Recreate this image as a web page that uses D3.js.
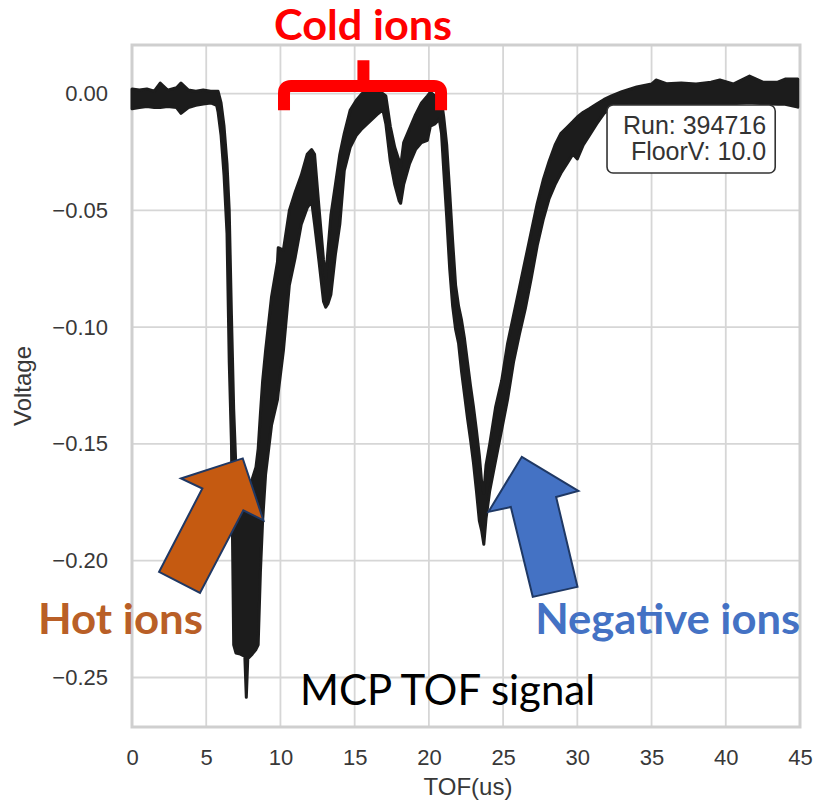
<!DOCTYPE html>
<html>
<head>
<meta charset="utf-8">
<script src="https://cdn.jsdelivr.net/npm/d3@7"></script>
<style>
  body { margin: 0; background: #fff; }
</style>
</head>
<body>
<div id="my_dataviz"></div>
<script>
// time of flight (us) and the upper / lower edge of the noisy MCP trace (V)
const tof = [0.0, 0.5, 1.0, 1.5, 1.9, 2.4, 3.0, 3.3, 3.8, 4.3, 4.8, 5.3, 5.7, 5.8, 6.0, 6.2, 6.4, 6.55, 6.7, 6.85,
  7.0, 7.3, 7.6, 7.7, 7.8, 8.1, 8.35, 8.5, 8.65, 8.8, 9.0, 9.4, 9.8, 9.85, 10.2, 10.6, 11.0, 11.4, 11.8, 12.1,
  12.3, 12.6, 12.9, 13.05, 13.2, 13.4, 13.7, 14.0, 14.3, 14.7, 15.1, 15.5, 16.0, 16.5, 16.9, 17.1, 17.4, 17.7, 18.0, 18.1,
  18.3, 18.7, 19.1, 19.5, 19.9, 20.1, 20.4, 20.7, 20.85, 21.0, 21.2, 21.4, 21.6, 21.8, 22.0, 22.2, 22.4, 22.6, 22.8, 23.0,
  23.2, 23.4, 23.55, 23.7, 23.85, 24.1, 24.5, 24.9, 25.3, 25.7, 26.1, 26.5, 26.9, 27.3, 27.7, 28.1, 28.5, 28.9, 29.3, 29.7,
  30.0, 30.4, 30.8, 31.3, 31.8, 32.3, 33.0, 34.0, 35.0, 35.3, 36.0, 37.0, 38.0, 39.0, 39.6, 40.5, 41.6, 42.5, 43.5, 44.0, 44.85];

const voltHigh = [0.002, 0.0015, 0.002, 0.001, 0.0045, 0.0015, 0.0025, 0.0045, 0.0015, 0.001, 0.0015, 0.001, 0.001, 0.001, -0.004, -0.014, -0.030, -0.050, -0.095, -0.135,
  -0.160, -0.165, -0.168, -0.168, -0.168, -0.165, -0.160, -0.152, -0.137, -0.123, -0.110, -0.087, -0.072, -0.066, -0.067, -0.050, -0.042, -0.035, -0.026, -0.024,
  -0.026, -0.049, -0.071, -0.079, -0.067, -0.052, -0.039, -0.026, -0.017, -0.007, -0.003, 0.000, 0.002, 0.002, 0.000, -0.001, -0.014, -0.023, -0.029, -0.031,
  -0.021, -0.015, -0.009, -0.004, -0.001, 0.0006, -0.001, -0.002, -0.003, -0.010, -0.022, -0.042, -0.063, -0.082, -0.091, -0.097, -0.105, -0.115, -0.125, -0.134,
  -0.144, -0.155, -0.166, -0.171, -0.159, -0.150, -0.134, -0.123, -0.107, -0.095, -0.083, -0.071, -0.059, -0.047, -0.037, -0.029, -0.022, -0.017, -0.0145, -0.012,
  -0.010, -0.008, -0.0065, -0.0045, -0.0025, -0.001, 0.0008, 0.0028, 0.0041, 0.0058, 0.0042, 0.0045, 0.0041, 0.0049, 0.0058, 0.0041, 0.0075, 0.0049, 0.0049, 0.0062, 0.0062];

const voltLow = [-0.0065, -0.006, -0.0055, -0.006, -0.006, -0.0055, -0.006, -0.0085, -0.006, -0.005, -0.0045, -0.004, -0.005, -0.008, -0.018, -0.035, -0.060, -0.115, -0.150, -0.236,
  -0.2395, -0.240, -0.241, -0.2585, -0.242, -0.240, -0.238, -0.236, -0.205, -0.183, -0.163, -0.142, -0.131, -0.128, -0.110, -0.082, -0.070, -0.056, -0.049, -0.046,
  -0.056, -0.072, -0.089, -0.0915, -0.090, -0.086, -0.069, -0.056, -0.033, -0.023, -0.018, -0.015, -0.012, -0.009, -0.007, -0.013, -0.029, -0.039, -0.046, -0.047,
  -0.039, -0.030, -0.024, -0.021, -0.020, -0.014, -0.013, -0.011, -0.017, -0.033, -0.053, -0.075, -0.091, -0.101, -0.107, -0.119, -0.129, -0.139, -0.148, -0.158,
  -0.170, -0.183, -0.187, -0.193, -0.182, -0.170, -0.157, -0.144, -0.131, -0.115, -0.103, -0.092, -0.079, -0.065, -0.054, -0.045, -0.039, -0.034, -0.030, -0.026,
  -0.028, -0.022, -0.018, -0.013, -0.0085, -0.0058, -0.0048, -0.0046, -0.0046, -0.0046, -0.0043, -0.0043, -0.0044, -0.0046, -0.0043, -0.0044, -0.0038, -0.0044, -0.0046, -0.0046, -0.0058];

const xTicks = [0, 5, 10, 15, 20, 25, 30, 35, 40, 45];
const yTicks = [0.00, -0.05, -0.10, -0.15, -0.20, -0.25];

const runInfo = ['Run: 394716', 'FloorV: 10.0'];

function drawChart(){
    // set the dimensions and margins of the graph
    var margin = {top: 45, right: 15, bottom: 78, left: 132},
        width = 815 - margin.left - margin.right,
        height = 805 - margin.top - margin.bottom;

    var svg = d3.select("#my_dataviz")
      .append("svg")
      .attr("width", 815)
      .attr("height", 805)
      .append("g")
      .attr("transform", "translate(" + margin.left + "," + margin.top + ")");

    var x = d3.scaleLinear().domain([0, 45]).range([0, width]);
    var y = d3.scaleLinear().domain([-0.2712, 0.0208]).range([height, 0]);

    // grid
    svg.selectAll("vgrid").data(xTicks).enter().append("line")
      .attr("x1", d => x(d)).attr("x2", d => x(d))
      .attr("y1", 0).attr("y2", height)
      .attr("stroke", "#d6d6d6").attr("stroke-width", 1.8);
    svg.selectAll("hgrid").data(yTicks).enter().append("line")
      .attr("x1", 0).attr("x2", width)
      .attr("y1", d => y(d)).attr("y2", d => y(d))
      .attr("stroke", "#d6d6d6").attr("stroke-width", 1.8);

    // frame
    svg.append("rect")
      .attr("width", width).attr("height", height)
      .attr("fill", "none").attr("stroke", "#cfcfcf").attr("stroke-width", 3);

    // tick labels
    var xAxis = svg.append("g")
      .attr("transform", "translate(0," + height + ")")
      .call(d3.axisBottom(x).tickValues(xTicks).tickSize(0).tickPadding(22).tickFormat(d3.format("d")));
    var yAxis = svg.append("g")
      .call(d3.axisLeft(y).tickValues(yTicks).tickSize(0).tickPadding(24).tickFormat(d3.format(".2f")));
    [xAxis, yAxis].forEach(function(a){
        a.select(".domain").remove();
        a.selectAll("text")
          .style("font-family", "'Liberation Sans', Arial, sans-serif")
          .style("font-size", "22px")
          .attr("fill", "#383838");
    });

    // axis titles
    svg.append("text")
      .attr("x", width / 2 + 2).attr("y", height + 68)
      .attr("text-anchor", "middle")
      .style("font-family", "'Liberation Sans', Arial, sans-serif")
      .style("font-size", "24px").attr("fill", "#383838")
      .text("TOF(us)");
    svg.append("text")
      .attr("transform", "translate(" + (31 - margin.left) + "," + (height / 2) + ") rotate(-90)")
      .attr("text-anchor", "middle")
      .style("font-family", "'Liberation Sans', Arial, sans-serif")
      .style("font-size", "24px").attr("fill", "#383838")
      .text("Voltage");

    // the trace: band between the upper and lower edge of the noise
    var data = tof.map((t, i) => ({t: t, hi: voltHigh[i], lo: voltLow[i]}));
    var area = d3.area()
      .x(d => x(d.t))
      .y0(d => y(d.lo))
      .y1(d => y(d.hi));
    svg.append("path")
      .datum(data)
      .attr("d", area)
      .attr("fill", "#1c1c1c")
      .attr("stroke", "#1c1c1c")
      .attr("stroke-width", 3)
      .attr("stroke-linejoin", "round");

    // run info box
    var box = svg.append("g");
    box.append("rect")
      .attr("x", x(32.0)).attr("y", y(-0.0049))
      .attr("width", x(43.33) - x(32.0)).attr("height", y(-0.034) - y(-0.0049))
      .attr("rx", 6)
      .attr("fill", "#fff").attr("stroke", "#333").attr("stroke-width", 1.6);
    box.selectAll("runtext").data(runInfo).enter().append("text")
      .attr("x", x(42.72))
      .attr("y", (d, i) => y(i == 0 ? -0.0171 : -0.0285))
      .attr("text-anchor", "end")
      .style("font-family", "'Liberation Sans', Arial, sans-serif")
      .style("font-size", "25px").attr("fill", "#333")
      .text(d => d);

    // red bracket over the cold ions
    var bracket = d3.path();
    var r = 7;
    bracket.moveTo(x(10.24), y(-0.0071));
    bracket.lineTo(x(10.24), y(0.0032) + r);
    bracket.quadraticCurveTo(x(10.24), y(0.0032), x(10.24) + r, y(0.0032));
    bracket.lineTo(x(20.82) - r, y(0.0032));
    bracket.quadraticCurveTo(x(20.82), y(0.0032), x(20.82), y(0.0032) + r);
    bracket.lineTo(x(20.82), y(-0.0071));
    bracket.moveTo(x(15.59), y(0.0032));
    bracket.lineTo(x(15.59), y(0.0143));
    svg.append("path")
      .attr("d", bracket.toString())
      .attr("fill", "none").attr("stroke", "#ff0000").attr("stroke-width", 12);

    // block arrows
    var arrows = [
      {fill: "#c55a11", pts: [[1.82, -0.2048], [4.74, -0.1691], [3.30, -0.1648], [7.46, -0.1562], [8.85, -0.1827], [7.50, -0.1784], [4.58, -0.2138]]},
      {fill: "#4472c4", pts: [[27.0, -0.2155], [25.52, -0.177], [24.01, -0.1791], [26.26, -0.1555], [30.07, -0.1701], [28.57, -0.1727], [30.01, -0.2112]]}
    ];
    svg.selectAll("arrows").data(arrows).enter().append("polygon")
      .attr("points", d => d.pts.map(p => x(p[0]) + "," + y(p[1])).join(" "))
      .attr("fill", d => d.fill)
      .attr("stroke", "#1f3864").attr("stroke-width", 2).attr("stroke-linejoin", "miter");

    // slide labels
    var labels = [
      {text: "Cold ions", t: 15.57, v: 0.0229, anchor: "middle", len: 178, color: "#ff0000", weight: 700},
      {text: "Hot ions", t: -6.33, v: -0.2315, anchor: "start", len: 165, color: "#b95f27", weight: 700},
      {text: "Negative ions", t: 27.16, v: -0.2315, anchor: "start", len: 265, color: "#4472c4", weight: 700},
      {text: "MCP TOF signal", t: 11.32, v: -0.2619, anchor: "start", len: 295, color: "#000", weight: 400}
    ];
    svg.selectAll("labels").data(labels).enter().append("text")
      .attr("x", d => x(d.t)).attr("y", d => y(d.v))
      .attr("text-anchor", d => d.anchor)
      .attr("textLength", d => d.len)
      .attr("lengthAdjust", "spacingAndGlyphs")
      .style("font-family", "Lato, 'Open Sans', sans-serif")
      .style("font-size", "42px")
      .style("font-weight", d => d.weight)
      .attr("fill", d => d.color)
      .text(d => d.text);
}

drawChart();
</script>
</body>
</html>
